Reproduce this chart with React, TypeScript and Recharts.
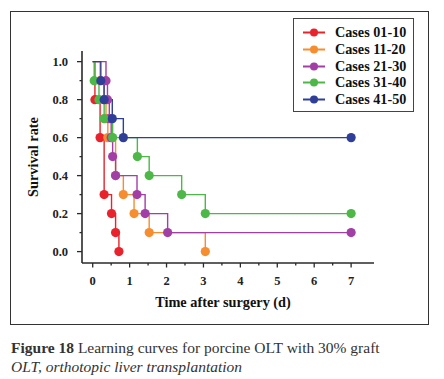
import React from "react";
import { LineChart, Line, XAxis, YAxis } from "recharts";

// ---- data ----
const seriesNames = ["Cases 01-10", "Cases 11-20", "Cases 21-30", "Cases 31-40", "Cases 41-50"];
const seriesColors = ["#e8232b", "#f68d2e", "#a13fa5", "#4db748", "#2f3f98"];

const redTime = [0, 0.06, 0.2, 0.31, 0.51, 0.62, 0.71];
const redSurv = [1.0, 0.8, 0.6, 0.3, 0.2, 0.1, 0.0];

const orangeTime = [0, 0.2, 0.3, 0.36, 0.41, 0.62, 0.83, 1.12, 1.53, 3.05];
const orangeSurv = [1.0, 0.9, 0.8, 0.7, 0.6, 0.4, 0.3, 0.2, 0.1, 0.0];

const purpleTime = [0, 0.36, 0.4, 0.45, 0.5, 0.54, 0.62, 1.2, 1.42, 2.03, 7];
const purpleSurv = [1.0, 0.9, 0.8, 0.7, 0.6, 0.5, 0.4, 0.3, 0.2, 0.1, 0.1];

const greenTime = [0, 0.04, 0.17, 0.31, 0.54, 1.21, 1.53, 2.41, 3.05, 7];
const greenSurv = [1.0, 0.9, 0.8, 0.7, 0.6, 0.5, 0.4, 0.3, 0.2, 0.2];

const blueTime = [0, 0.22, 0.31, 0.53, 0.83, 7];
const blueSurv = [1.0, 0.9, 0.8, 0.7, 0.6, 0.6];

const xTicks = [0, 0.5, 1, 1.5, 2, 2.5, 3, 3.5, 4, 4.5, 5, 5.5, 6, 6.5, 7];
const yTicks = [0, 0.1, 0.2, 0.3, 0.4, 0.5, 0.6, 0.7, 0.8, 0.9, 1.0];

const xTitle = "Time after surgery (d)";
const yTitle = "Survival rate";
const captionBold = "Figure 18";
const captionRest = " Learning curves for porcine OLT with 30% graft";
const captionLine2 = "OLT, orthotopic liver transplantation";

const toRows = (t: number[], s: number[]) => t.map((x, i) => ({ t: x, s: s[i] }));
const seriesData = [
  toRows(redTime, redSurv),
  toRows(orangeTime, orangeSurv),
  toRows(purpleTime, purpleSurv),
  toRows(greenTime, greenSurv),
  toRows(blueTime, blueSurv),
];

const FONT = "'Liberation Serif', 'Times New Roman', serif";
const AXIS = "#2a2a2a";

const makeDot = (color: string) => (props: any) => {
  const { cx, cy, index } = props;
  if (index === 0 || cx == null || cy == null) return <g key={`d${index}`} />;
  return <circle key={`d${index}`} cx={cx} cy={cy} r={4.6} fill={color} stroke="none" />;
};

const YTick = (props: any) => {
  const { x, y, payload } = props;
  const v = payload.value as number;
  const major = Math.round(v * 10) % 2 === 0;
  return (
    <g>
      <line x1={x - (major ? 5 : 2.5)} x2={x} y1={y} y2={y} stroke={AXIS} strokeWidth={1.3} />
      {major && (
        <text x={x - 14} y={y} dy={4.3} textAnchor="end" fontFamily={FONT} fontWeight="bold" fontSize={12.5} fill="#222">
          {v.toFixed(1)}
        </text>
      )}
    </g>
  );
};

const XTick = (props: any) => {
  const { x, y, payload } = props;
  const v = payload.value as number;
  const major = Number.isInteger(v);
  return (
    <g>
      <line x1={x} x2={x} y1={y} y2={y + (major ? 4.5 : 2.5)} stroke={AXIS} strokeWidth={1.3} />
      {major && (
        <text x={x} y={y + 21.5} textAnchor="middle" fontFamily={FONT} fontWeight="bold" fontSize={12.5} fill="#222">
          {v}
        </text>
      )}
    </g>
  );
};

export default function App() {
  return (
    <div style={{ position: "relative", width: 436, height: 371, fontFamily: FONT }}>
      <div
        style={{
          position: "absolute",
          left: 2,
          top: 3,
          width: 419,
          height: 314,
          border: "1px solid #333",
          boxSizing: "border-box",
        }}
      />
      <div style={{ position: "absolute", left: 0, top: 0 }}>
        <LineChart
          width={436}
          height={340}
          margin={{ top: 43, right: 70, bottom: 55, left: 34 }}
        >
          <XAxis
            type="number"
            dataKey="t"
            domain={[-0.29, 7.62]}
            allowDataOverflow
            ticks={xTicks}
            interval={0}
            tickSize={0}
            tickMargin={0}
            tickLine={false}
            tick={<XTick />}
            height={30}
            axisLine={{ stroke: AXIS, strokeWidth: 1.6 }}
          />
          <YAxis
            type="number"
            dataKey="s"
            domain={[-0.06, 1.056]}
            allowDataOverflow
            ticks={yTicks}
            interval={0}
            tickSize={0}
            tickMargin={0}
            tickLine={false}
            tick={<YTick />}
            width={40}
            axisLine={{ stroke: AXIS, strokeWidth: 1.6 }}
          />
          {seriesData.map((d, i) => (
            <Line
              key={seriesNames[i]}
              data={d}
              dataKey="s"
              name={seriesNames[i]}
              type="stepAfter"
              stroke={seriesColors[i]}
              strokeWidth={1.4}
              dot={makeDot(seriesColors[i])}
              activeDot={false}
              isAnimationActive={false}
            />
          ))}
        </LineChart>
      </div>

      {/* axis titles */}
      <svg width={436} height={340} style={{ position: "absolute", left: 0, top: 0, pointerEvents: "none" }}>
        <text
          x={0}
          y={0}
          transform="translate(30,149) rotate(-90)"
          textAnchor="middle"
          fontFamily={FONT}
          fontWeight="bold"
          fontSize={14.3}
          fill="#111"
        >
          {yTitle}
        </text>
        <text x={215} y={299} textAnchor="middle" fontFamily={FONT} fontWeight="bold" fontSize={14.3} fill="#111">
          {xTitle}
        </text>
      </svg>

      {/* legend */}
      <div
        style={{
          position: "absolute",
          left: 285,
          top: 10,
          width: 121,
          height: 94,
          border: "1.5px solid #444",
          boxSizing: "border-box",
          background: "#fff",
        }}
      >
        {seriesNames.map((n, i) => (
          <div
            key={n}
            style={{ position: "absolute", left: 0, top: 5 + i * 16.8, height: 17, width: 118, display: "flex", alignItems: "center" }}
          >
            <svg width={41} height={17} style={{ flex: "none" }}>
              <line x1={9} x2={31} y1={8.5} y2={8.5} stroke={seriesColors[i]} strokeWidth={2} />
              <circle cx={20} cy={8.5} r={4} fill={seriesColors[i]} />
            </svg>
            <span style={{ fontFamily: FONT, fontWeight: "bold", fontSize: 14.2, color: "#111", whiteSpace: "nowrap" }}>{n}</span>
          </div>
        ))}
      </div>

      {/* caption */}
      <div
        style={{
          position: "absolute",
          left: 3,
          top: 330,
          fontFamily: FONT,
          fontSize: 15.5,
          lineHeight: "19px",
          color: "#333",
          whiteSpace: "nowrap",
        }}
      >
        <div>
          <b>{captionBold}</b>
          {captionRest}
        </div>
        <div style={{ fontStyle: "italic" }}>{captionLine2}</div>
      </div>
    </div>
  );
}
